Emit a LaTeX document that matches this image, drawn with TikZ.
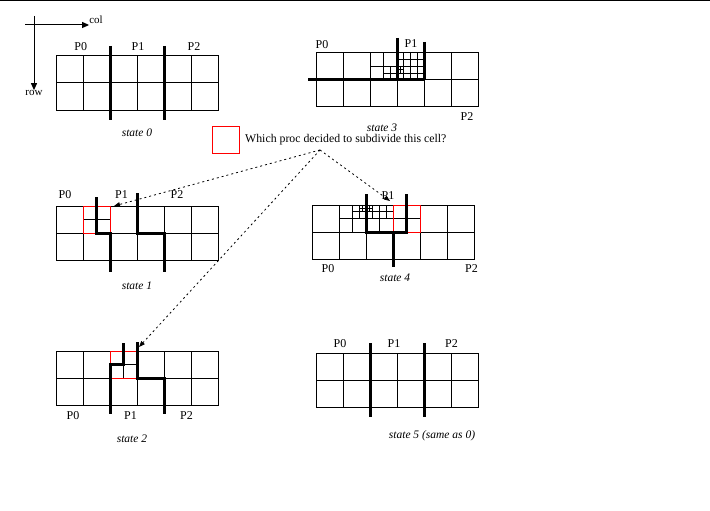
\documentclass[tikz,border=0pt]{standalone}
\usepackage{fontspec}
\setmainfont{Liberation Serif}
\usetikzlibrary{arrows.meta}
\tikzset{
  gridline/.style={line width=1pt, black},
  wall/.style={line width=3pt, black},
  redcell/.style={draw=red, line width=1pt},
  plabel/.style={font=\fontsize{12}{12}\selectfont, inner sep=0pt},
  statelabel/.style={font=\fontsize{11.5}{12}\selectfont\itshape, inner sep=0pt},
  axislabel/.style={font=\fontsize{11}{11}\selectfont, inner sep=0pt},
  dotarrow/.style={line width=0.8pt, dash pattern=on 2pt off 3pt, -{Triangle[length=6pt,width=4.5pt]}},
  axisarrow/.style={line width=1pt, -{Triangle[length=7pt,width=6pt]}}
}
\newcommand{\cellgrid}{%
  \draw[gridline] (0,0) rectangle (162,54);
  \foreach \i in {27,54,81,108,135} \draw[gridline] (\i,0) -- (\i,54);
  \draw[gridline] (0,27) -- (162,27);
}
\begin{document}
\begin{tikzpicture}[x=1pt,y=-1pt]
\useasboundingbox (0,0) rectangle (710,511);
\fill[white] (0,0) rectangle (710,511);
\draw[line width=1.2pt] (0,0.6) -- (710,0.6);

% axes
\coordinate (ax0) at (25,25);
\coordinate (ax1) at (34,16);
\node[axislabel] (col) at (96,20) {col};
\node[axislabel] (row) at (34,93) {row};
\draw[axisarrow] (ax0) -- (col.west |- ax0);
\draw[axisarrow] (ax1) -- (row.north);

% ---------- state 0 ----------
\begin{scope}[shift={(56,56)}]
  \cellgrid
  \draw[wall] (54,-10) -- (54,64);
  \draw[wall] (108,-10) -- (108,64);
\end{scope}
\node[plabel] (s0p0) at (80.7,46.5) {P0};
\node[plabel] (s0p1) at (138,46.5) {P1};
\node[plabel] (s0p2) at (194,46.5) {P2};
\node[statelabel] (s0) at (137,132.5) {state 0};

% ---------- state 3 ----------
\begin{scope}[shift={(316,53)}]
  \cellgrid
  % col 2 subdivision
  \draw[gridline] (67.5,0) -- (67.5,27);
  \draw[gridline] (54,13.5) -- (81,13.5);
  \draw[gridline] (74.25,13.5) -- (74.25,27);
  \draw[gridline] (67.5,20.25) -- (81,20.25);
  % col 3 subdivision
  \foreach \v in {87.75,94.5,101.25} \draw[gridline] (\v,0) -- (\v,27);
  \foreach \h in {6.75,13.5,20.25} \draw[gridline] (81,\h) -- (108,\h);
  \draw[gridline] (84.375,13.5) -- (84.375,20.25);
  \draw[gridline] (81,16.875) -- (87.75,16.875);
  % walls
  \draw[wall] (81,-15) -- (81,27);
  \draw[wall] (108,-11) -- (108,27);
  \draw[wall] (-8,27) -- (108,27);
\end{scope}
\node[plabel] (s3p0) at (322,45) {P0};
\node[plabel] (s3p1) at (411,44) {P1};
\node[plabel] (s3p2) at (467,117) {P2};
\node[statelabel] (s3) at (382,127.5) {state 3};

% ---------- legend ----------
\draw[redcell] (212,126) rectangle (239,153);
\node[font=\fontsize{11.8}{12}\selectfont, inner sep=0pt, anchor=west] (legend) at (245,139.5) {Which proc decided to subdivide this cell?};
\coordinate (src) at (320,150);

% ---------- state 1 ----------
\begin{scope}[shift={(56,206)}]
  \cellgrid
  \draw[gridline] (27,13.5) -- (54,13.5);
  \draw[redcell] (27,0) rectangle (54,27);
  \draw[wall] (40.5,-9) -- (40.5,27) -- (54,27) -- (54,66);
  \draw[wall] (81,-13) -- (81,27) -- (108,27) -- (108,66);
  \coordinate (t1) at (58,0);
\end{scope}
\node[plabel] (s1p0) at (65,195) {P0};
\node[plabel] (s1p1) at (121.5,195) {P1};
\node[plabel] (s1p2) at (177,195) {P2};
\node[statelabel] (s1) at (137,286) {state 1};

% ---------- state 4 ----------
\begin{scope}[shift={(312,205)}]
  \cellgrid
  \draw[gridline] (27,13.5) -- (108,13.5);
  \draw[gridline] (40.5,0) -- (40.5,27);
  \draw[gridline] (67.5,0) -- (67.5,27);
  \foreach \v in {47.25,60.75,74.25} \draw[gridline] (\v,0) -- (\v,13.5);
  \draw[gridline] (40.5,6.75) -- (81,6.75);
  \foreach \v in {50.625,57.375} \draw[gridline] (\v,0) -- (\v,6.75);
  \draw[gridline] (47.25,3.375) -- (60.75,3.375);
  \draw[redcell] (81,0) rectangle (108,27);
  \draw[wall] (54,-11) -- (54,27) -- (94.5,27) -- (94.5,-11);
  \draw[wall] (81,27) -- (81,62);
  \coordinate (t4) at (78,-4);
\end{scope}
\node[plabel] (s4p1) at (388,195.5) {P1};
\node[plabel] (s4p0) at (328,269) {P0};
\node[plabel] (s4p2) at (471.5,269) {P2};
\node[statelabel] (s4) at (395,278) {state 4};

% ---------- state 2 ----------
\begin{scope}[shift={(56,351)}]
  \cellgrid
  \draw[gridline] (54,13.5) -- (81,13.5);
  \draw[gridline] (67.5,13.5) -- (67.5,27);
  \draw[redcell] (54,0) rectangle (81,27);
  \draw[wall] (67.5,-8) -- (67.5,13.5) -- (54,13.5) -- (54,63);
  \draw[wall] (81,-9) -- (81,27) -- (108,27) -- (108,63);
  \coordinate (t2) at (83,-4);
\end{scope}
\node[plabel] (s2p0) at (73,416) {P0};
\node[plabel] (s2p1) at (130.5,416) {P1};
\node[plabel] (s2p2) at (186.5,416) {P2};
\node[statelabel] (s2) at (132,439) {state 2};

% ---------- state 5 ----------
\begin{scope}[shift={(316,353)}]
  \cellgrid
  \draw[wall] (54,-10) -- (54,64);
  \draw[wall] (108,-10) -- (108,64);
\end{scope}
\node[plabel] (s5p0) at (340,344) {P0};
\node[plabel] (s5p1) at (394,344) {P1};
\node[plabel] (s5p2) at (451.5,344) {P2};
\node[statelabel] (s5) at (432,436) {state 5 (same as 0)};

% ---------- dotted arrows ----------
\draw[dotarrow] (src) -- (t1);
\draw[dotarrow] (src) -- (t4);
\draw[dotarrow] (src) -- (t2);
\end{tikzpicture}
\end{document}
